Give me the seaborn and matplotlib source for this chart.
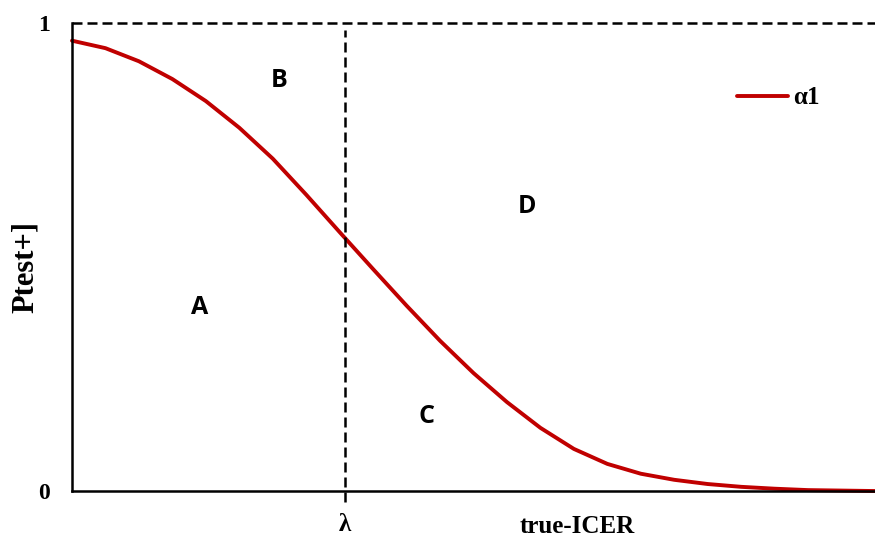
import matplotlib
matplotlib.use('Agg')
import matplotlib.pyplot as plt
import seaborn as sns
import pandas as pd
import numpy as np

# values (x in arbitrary steps, y = P[test+])
x_vals = list(range(25))
p_test = [0.962, 0.946, 0.918, 0.880, 0.833, 0.776, 0.710, 0.633, 0.553, 0.474,
          0.396, 0.321, 0.252, 0.190, 0.135, 0.090, 0.058, 0.037, 0.024, 0.015,
          0.009, 0.005, 0.002, 0.001, 0.0]
lam = 8.16
region_labels = ['A', 'B', 'C', 'D']
region_x = [3.80, 6.19, 10.61, 13.60]
region_y = [0.391, 0.876, 0.160, 0.607]

df = pd.DataFrame({'icer': x_vals, 'p': p_test, 'series': 'α1'})

sns.set_style('white')
plt.rcParams['font.family'] = ['Liberation Serif', 'DejaVu Serif']
plt.rcParams['text.color'] = 'black'
plt.rcParams['axes.labelcolor'] = 'black'
plt.rcParams['xtick.color'] = 'black'
plt.rcParams['ytick.color'] = 'black'

fig = plt.figure(figsize=(8.75, 5.45), dpi=100)
ax = fig.add_axes([0.0823, 0.099, 0.9177, 0.859])

sns.lineplot(data=df, x='icer', y='p', hue='series', palette=['#C00000'],
             linewidth=2.8, ax=ax, clip_on=False)

ax.set_xlim(0, 24)
ax.set_ylim(0, 1)

# dashed reference lines
dash = (0, (4, 2))
ax.axhline(1, color='black', linestyle=dash, linewidth=1.8, clip_on=False)
ax.axvline(lam, ymin=-0.0235, ymax=0.985, color='black', linestyle=dash,
           linewidth=1.8, clip_on=False)

for s in ['top', 'right']:
    ax.spines[s].set_visible(False)
for s in ['left', 'bottom']:
    ax.spines[s].set_color('black')
    ax.spines[s].set_linewidth(1.8)

ax.set_yticks([0, 1])
ax.set_yticklabels(['0', '1'], fontsize=17, fontweight='bold')
ax.set_xticks([lam])
ax.set_xticklabels(['λ'], fontsize=18, fontweight='bold')
ax.tick_params(axis='y', length=6, width=1.8, pad=10)
ax.tick_params(axis='x', length=0, pad=16)

ax.set_xlabel('true-ICER', fontsize=18, fontweight='bold')
ax.xaxis.set_label_coords(0.629, -0.052)
ax.set_ylabel('Ptest+]', fontsize=22, fontweight='bold')
ax.yaxis.set_label_coords(-0.040, 0.479)

for lab, tx, ty in zip(region_labels, region_x, region_y):
    ax.text(tx, ty, lab, fontsize=18, fontweight='bold',
            family=['Open Sans', 'DejaVu Sans'], ha='center', va='center')

leg = ax.legend(loc='center left', bbox_to_anchor=(0.8, 0.84), frameon=False,
                prop={'size': 18, 'weight': 'bold'}, handlelength=2.05,
                handletextpad=0.2)

fig.savefig('out.png', dpi=100)
